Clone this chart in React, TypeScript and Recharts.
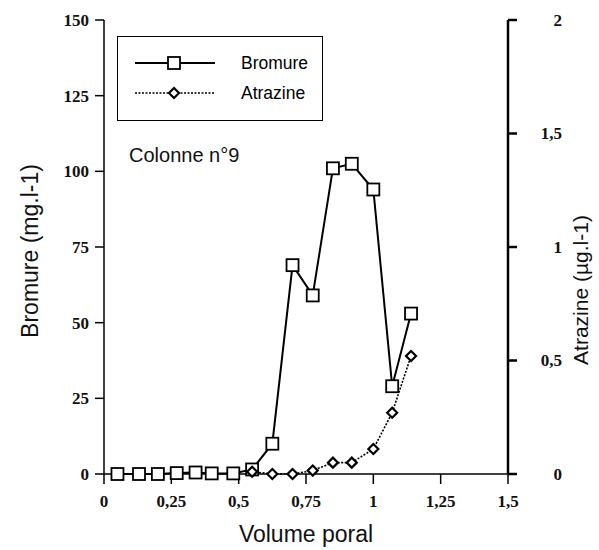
import React from 'react';
import { LineChart, Line, XAxis, YAxis, Legend } from 'recharts';

const volume = [0.05, 0.13, 0.2, 0.27, 0.34, 0.4, 0.48, 0.55, 0.625, 0.7, 0.775, 0.85, 0.92, 1.0, 1.07, 1.14];
const bromure = [0, 0, 0, 0.3, 0.5, 0.2, 0.2, 1.5, 10, 69, 59, 101, 102.5, 94, 29, 53];
// atrazine was only measured from 0.55 onward
const atrazine = [null, null, null, null, null, null, null, 0.01, 0, 0, 0.015, 0.05, 0.05, 0.11, 0.27, 0.52];

const xTicks = [0, 0.25, 0.5, 0.75, 1, 1.25, 1.5];
const leftTicks = [0, 25, 50, 75, 100, 125, 150];
const rightTicks = [0, 0.5, 1, 1.5, 2];

const data = volume.map((v, i) => ({ volume: v, bromure: bromure[i], atrazine: atrazine[i] }));

const comma = (v: number) => String(v).replace('.', ',');
const serif = '"Liberation Serif", "Times New Roman", serif';
const sans = '"Liberation Sans", Arial, sans-serif';

function Square({ cx, cy, index }: any) {
  if (cy == null) return <g key={`s${index}`} />;
  return <rect key={`s${index}`} x={cx - 6} y={cy - 6} width={12} height={12} fill="#fff" stroke="#000" strokeWidth={1.8} />;
}

function Diamond({ cx, cy, index }: any) {
  if (cy == null) return <g key={`d${index}`} />;
  return (
    <polygon
      key={`d${index}`}
      points={`${cx},${cy - 5} ${cx + 5},${cy} ${cx},${cy + 5} ${cx - 5},${cy}`}
      fill="#fff"
      stroke="#000"
      strokeWidth={2.2}
    />
  );
}

function TickText({ x, y, payload, anchor, dy }: any) {
  return (
    <text x={x} y={y} dy={dy} textAnchor={anchor} fontFamily={serif} fontSize={17} fontWeight="bold" fill="#111">
      {comma(payload.value)}
    </text>
  );
}

const LeftTick = (p: any) => <TickText {...p} anchor="end" dy="0.35em" />;
const BottomTick = (p: any) => <TickText {...p} anchor="middle" dy="0.8em" />;
const RightTick = (p: any) => <TickText {...p} x={p.x + 43} anchor="end" dy="0.35em" />;

function LegendBox() {
  return (
    <div style={{ width: 204, height: 83, border: '1.5px solid #000', background: '#fff', boxSizing: 'content-box' }}>
      <svg width={204} height={83}>
        <line x1={17} x2={97} y1={26} y2={26} stroke="#000" strokeWidth={2} />
        <rect x={50} y={20} width={12} height={12} fill="#fff" stroke="#000" strokeWidth={1.8} />
        <text x={123} y={32} fontFamily={sans} fontSize={17.5}>Bromure</text>
        <line x1={17} x2={97} y1={56} y2={56} stroke="#000" strokeWidth={1.6} strokeDasharray="2 1.5" />
        <polygon points="56,51 61,56 56,61 51,56" fill="#fff" stroke="#000" strokeWidth={2.2} />
        <text x={123} y={62} fontFamily={sans} fontSize={17.5}>Atrazine</text>
      </svg>
    </div>
  );
}

export default function App() {
  return (
    <div style={{ position: 'absolute', left: 0, top: 0, width: 599, height: 550, background: '#fff' }}>
      <LineChart width={599} height={550} data={data} margin={{ top: 20, right: 0, bottom: 0, left: 0 }}>
        <XAxis
          dataKey="volume"
          type="number"
          domain={[0, 1.5]}
          ticks={xTicks}
          height={76}
          tickSize={10}
          tickMargin={9}
          stroke="#000"
          strokeWidth={1.5}
          tick={BottomTick}
          label={{
            content: () => (
              <text x={306} y={542} textAnchor="middle" fontFamily={sans} fontSize={23} fill="#111">
                Volume poral
              </text>
            ),
          }}
        />
        <YAxis
          yAxisId="left"
          domain={[0, 150]}
          ticks={leftTicks}
          width={104}
          tickSize={9}
          tickMargin={6}
          stroke="#000"
          strokeWidth={1.5}
          tick={LeftTick}
          label={{
            content: () => (
              <text x={38} y={251} transform="rotate(-90 38 251)" textAnchor="middle" fontFamily={sans} fontSize={23} fill="#111">
                Bromure (mg.l-1)
              </text>
            ),
          }}
        />
        <YAxis
          yAxisId="right"
          orientation="right"
          domain={[0, 2]}
          ticks={rightTicks}
          width={91}
          tickSize={9}
          tickMargin={2}
          stroke="#000"
          strokeWidth={2.5}
          tick={RightTick}
          label={{
            content: () => (
              <text x={588} y={290} transform="rotate(-90 588 290)" textAnchor="middle" fontFamily={sans} fontSize={21} fill="#111">
                Atrazine (µg.l-1)
              </text>
            ),
          }}
        />
        <Legend
          layout="vertical"
          align="center"
          verticalAlign="middle"
          content={() => <LegendBox />}
          wrapperStyle={{ left: 117, top: 36, width: 207, height: 86 }}
        />
        <Line
          yAxisId="left"
          dataKey="bromure"
          stroke="#000"
          strokeWidth={2}
          dot={Square}
          activeDot={false}
          isAnimationActive={false}
        />
        <Line
          yAxisId="right"
          dataKey="atrazine"
          stroke="#000"
          strokeWidth={1.6}
          strokeDasharray="2 1.5"
          dot={Diamond}
          activeDot={false}
          isAnimationActive={false}
        />
      </LineChart>
      <div style={{ position: 'absolute', left: 129, top: 145, fontFamily: sans, fontSize: 20, lineHeight: '20px', color: '#111' }}>
        Colonne n°9
      </div>
    </div>
  );
}
